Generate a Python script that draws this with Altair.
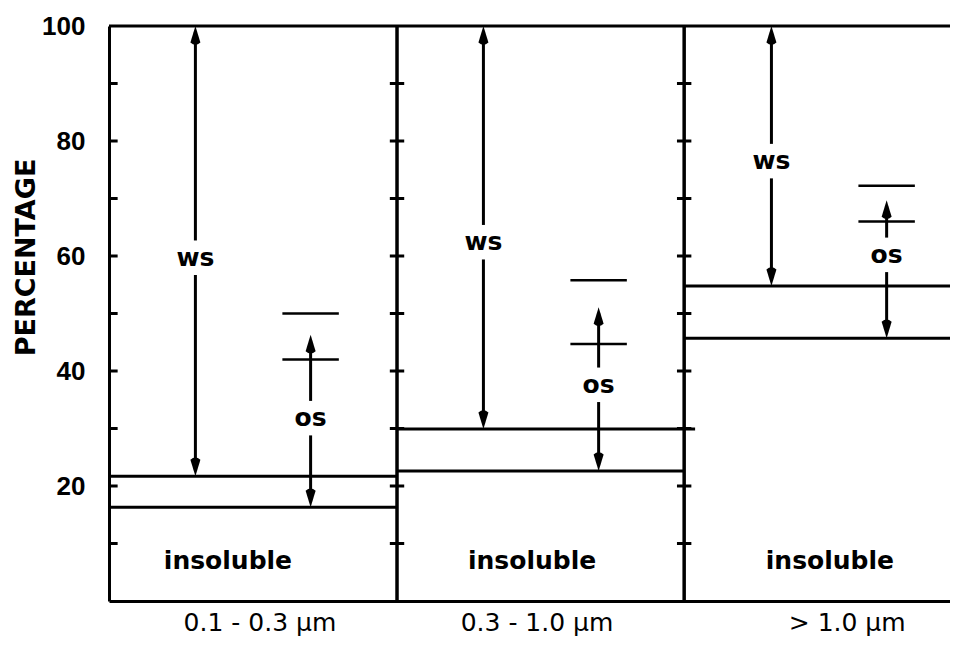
import altair as alt
import pandas as pd

# ---- values ----
panel_labels = ["0.1 - 0.3 μm", "0.3 - 1.0 μm", "> 1.0 μm"]
panel_label_x = [0.524, 1.486, 2.563]
panel_start = [0.0, 1.0, 2.0]
insoluble = [16.3, 22.6, 45.7]
insoluble_end = [1.0, 2.0, 2.92]
ws_level = [21.7, 29.9, 54.8]
ws_end = [1.0, 2.035, 2.92]
ws_x = [0.30, 1.30, 2.30]
ws_label_y = [59.7, 62.4, 76.5]
os_x = [0.70, 1.70, 2.70]
os_tip = [46.3, 51.1, 69.7]
os_mid = [42.0, 44.7, 66.0]
os_top = [50.0, 55.8, 72.2]
os_label_y = [31.8, 37.6, 60.2]
bar_half = 0.098
ins_label_x = [0.413, 1.469, 2.503]
ins_label_y = 7.0
dividers = [1.0, 1.997]
minor_ticks = [10, 20, 30, 40, 50, 60, 70, 80, 90]
major_ticks = [20, 40, 60, 80, 100]
x_max = 2.92
gap = 3.0
head_trim = 1.0

# ---- tables ----
hl = []
for i in range(3):
    hl.append(dict(x=panel_start[i], x2=insoluble_end[i], y=insoluble[i]))
    hl.append(dict(x=panel_start[i], x2=ws_end[i], y=ws_level[i]))
hl.append(dict(x=0.0, x2=x_max, y=100.0))
hlines = pd.DataFrame(hl)

vlines = pd.DataFrame(dict(x=dividers, y=[0.0] * len(dividers), y2=[100.0] * len(dividers)))

tk = []
for t in minor_ticks:
    tk.append(dict(x=0.0, x2=0.03, y=t))
    for d in dividers:
        tk.append(dict(x=d - 0.025, x2=d + 0.025, y=t))
ticks = pd.DataFrame(tk)

sh = []
for i in range(3):
    sh.append(dict(x=ws_x[i], y=ws_label_y[i] + gap, y2=100.0 - head_trim))
    sh.append(dict(x=ws_x[i], y=ws_level[i] + head_trim, y2=ws_label_y[i] - gap))
    sh.append(dict(x=os_x[i], y=os_label_y[i] + gap, y2=os_tip[i] - head_trim))
    sh.append(dict(x=os_x[i], y=insoluble[i] + head_trim, y2=os_label_y[i] - gap))
shafts = pd.DataFrame(sh)

heads_up = pd.DataFrame(dict(x=ws_x + os_x, y=[100.0] * 3 + os_tip))
heads_down = pd.DataFrame(dict(x=ws_x + os_x, y=ws_level + insoluble))

br = []
for i in range(3):
    for v in (os_mid[i], os_top[i]):
        br.append(dict(x=os_x[i] - bar_half, x2=os_x[i] + bar_half, y=v))
bars = pd.DataFrame(br)

inner_text = pd.DataFrame(dict(
    x=ws_x + os_x + ins_label_x,
    y=ws_label_y + os_label_y + [ins_label_y] * 3,
    t=["ws"] * 3 + ["os"] * 3 + ["insoluble"] * 3,
))
xlab = pd.DataFrame(dict(x=panel_label_x, y=[-5.3] * 3, t=panel_labels))

# ---- scales & axes (identical in every layer so they merge) ----
xs = alt.Scale(domain=[0, x_max], nice=False, zero=False)
ys = alt.Scale(domain=[0, 100], nice=False, zero=False)
x_axis = alt.Axis(domain=True, domainColor="black", domainWidth=3, ticks=False, tickSize=0,
                  labels=False, grid=False, title=None)
y_axis = alt.Axis(values=major_ticks, domain=True, domainColor="black", domainWidth=3,
                  ticks=False, tickSize=0, grid=False, labelPadding=24,
                  labelFont="Liberation Sans", labelFontWeight="bold", labelFontSize=26,
                  labelColor="black", title="PERCENTAGE", titleFont="DejaVu Sans",
                  titleFontWeight="bold", titleFontSize=27, titleColor="black",
                  titleAngle=270, titleAlign="center", titleBaseline="middle",
                  titleX=-83, titleY=231)
X = lambda f: alt.X(f, type="quantitative", scale=xs, axis=x_axis, title=None)
Y = lambda f: alt.Y(f, type="quantitative", scale=ys, axis=y_axis, title="PERCENTAGE")

h_layer = alt.Chart(hlines).mark_rule(color="black", strokeWidth=3).encode(
    x=X("x"), x2="x2", y=Y("y"))
v_layer = alt.Chart(vlines).mark_rule(color="black", strokeWidth=3.5).encode(
    x=X("x"), y=Y("y"), y2="y2")
t_layer = alt.Chart(ticks).mark_rule(color="black", strokeWidth=3).encode(
    x=X("x"), x2="x2", y=Y("y"))
s_layer = alt.Chart(shafts).mark_rule(color="black", strokeWidth=3).encode(
    x=X("x"), y=Y("y"), y2="y2")
b_layer = alt.Chart(bars).mark_rule(color="black", strokeWidth=2.5).encode(
    x=X("x"), x2="x2", y=Y("y"))

up_path = "M0,-1L0.5,0.65Q0,1.1,-0.5,0.65Z"
down_path = "M0,1L0.5,-0.65Q0,-1.1,-0.5,-0.65Z"
hu = alt.Chart(heads_up).mark_point(shape=up_path, size=400, filled=True, color="black",
                                     opacity=1, strokeWidth=0, yOffset=10).encode(x=X("x"), y=Y("y"))
hd = alt.Chart(heads_down).mark_point(shape=down_path, size=400, filled=True, color="black",
                                       opacity=1, strokeWidth=0, yOffset=-10).encode(x=X("x"), y=Y("y"))

txt = alt.Chart(inner_text).mark_text(font="DejaVu Sans", fontWeight="bold", fontSize=25,
                                      color="black", align="center", baseline="middle").encode(
    x=X("x"), y=Y("y"), text="t:N")
xl = alt.Chart(xlab).mark_text(font="DejaVu Sans", fontSize=25, color="black",
                               align="center", baseline="alphabetic").encode(
    x=X("x"), y=Y("y"), text="t:N")

chart = alt.layer(h_layer, v_layer, t_layer, s_layer, b_layer, hu, hd, txt, xl).properties(
    width=841, height=575,
    autosize=alt.AutoSizeParams(type="none"),
    padding={"left": 101, "top": 18, "right": 0, "bottom": 37},
    background="white",
).configure_view(stroke=None)

chart.save("out.html", embed_options={"renderer": "svg", "actions": False})
